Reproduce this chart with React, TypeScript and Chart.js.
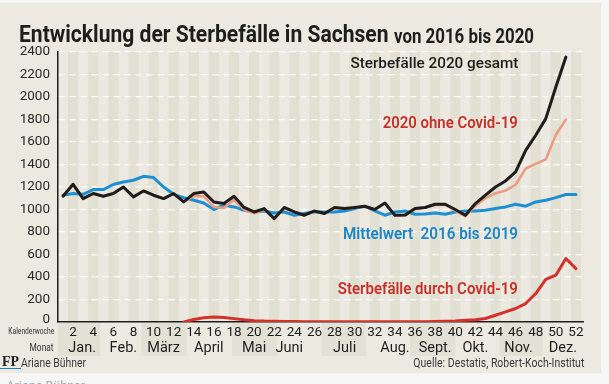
import React, { useEffect, useLayoutEffect, useRef } from "react";
import { Chart, registerables } from "chart.js";
Chart.register(...registerables);

// ---- data ----
const weeks = [1,2,3,4,5,6,7,8,9,10,11,12,13,14,15,16,17,18,19,20,21,22,23,24,25,26,27,28,29,30,31,32,33,34,35,36,37,38,39,40,41,42,43,44,45,46,47,48,49,50,51,52];
const total2020 = [1118,1224,1097,1142,1118,1142,1200,1112,1165,1127,1097,1142,1067,1142,1156,1067,1053,1118,1018,978,1008,920,1018,978,949,987,964,1018,1008,1018,1029,1000,1058,949,950,1008,1018,1047,1047,1000,949,1053,1127,1200,1254,1334,1526,1660,1808,2089,2355,null];
const without2020 = [1118,1224,1097,1142,1118,1142,1200,1112,1165,1127,1097,1142,1067,1120,1118,1022,1013,1088,998,966,1000,914,1013,974,946,984,962,1016,1006,1016,1027,998,1056,946,947,1005,1015,1042,1040,990,939,1035,1100,1145,1168,1220,1364,1405,1445,1665,1800,null];
const covid2020 = [null,null,null,null,null,null,null,null,null,null,null,null,0,22,38,45,40,30,20,12,8,6,5,4,3,3,2,2,2,2,2,2,2,3,3,3,3,5,7,10,15,20,31,60,90,120,164,253,378,416,564,475];
const mean2016to2019 = [1127,1142,1135,1177,1177,1222,1245,1260,1295,1284,1200,1135,1106,1082,1058,1000,1038,1023,993,978,987,969,978,949,964,978,978,978,987,1008,1029,987,949,978,987,958,960,969,958,978,987,987,993,1008,1023,1047,1029,1067,1082,1106,1133,1133];
const weekTicks = [2,4,6,8,10,12,14,16,18,20,22,24,26,28,30,32,34,36,38,40,42,44,46,48,50,52];
const yTicks = [0,200,400,600,800,1000,1200,1400,1600,1800,2000,2200,2400];
const monthLabels = ["Jan.","Feb.","März","April","Mai","Juni","Juli","Aug.","Sept.","Okt.","Nov.","Dez."];
const monthCenters = [2.9,7,11,15.5,20,23.5,29,34,38,42,46.3,50.7];
const monthBounds = [0.5,4.7,8.8,13.3,17.8,22.3,26.7,31.1,35.5,40,44.4,48.7,52.7];

const BEIGE = "#ebe9e0";
const STRIPE = "#e2dfd3";
const BAND = "#e3e1d6";
const FONT = "Roboto, 'Noto Sans', sans-serif";
const TICK_SIZE = 13.5;

const toPts = (arr: (number | null)[]) => arr.map((v, i) => ({ x: weeks[i], y: v }));

const bgPlugin = {
  id: "bgStripes",
  beforeDraw(chart: any) {
    const { ctx, chartArea } = chart;
    const xs = chart.scales.x;
    ctx.save();
    ctx.fillStyle = STRIPE;
    weekTicks.forEach((w) => {
      const a = xs.getPixelForValue(w - 0.5);
      const b = Math.min(xs.getPixelForValue(w + 0.5), chartArea.right);
      ctx.fillRect(a, chartArea.top, b - a, chartArea.bottom - chartArea.top);
    });
    ctx.fillStyle = BAND;
    for (let i = 0; i < monthBounds.length - 1; i += 2) {
      const a = xs.getPixelForValue(monthBounds[i]);
      const b = xs.getPixelForValue(monthBounds[i + 1]);
      ctx.fillRect(a, chartArea.bottom + 1, b - a, 356 - chartArea.bottom - 1);
    }
    ctx.restore();
  },
  afterDraw(chart: any) {
    // bottom y tick label ("0"), drawn at the y scale's own pixel for the first tick
    const { ctx, chartArea } = chart;
    const ys = chart.scales.y;
    ctx.save();
    ctx.fillStyle = "#2a2a2a";
    ctx.font = `${TICK_SIZE}px ${FONT}`;
    ctx.textAlign = "right";
    ctx.textBaseline = "middle";
    ctx.fillText(String(yTicks[0]), chartArea.left - 8, ys.getPixelForValue(yTicks[0]) - 2);
    ctx.restore();
  },
};

function FitText(props: {
  text: string; x: number; anchor: "left" | "right"; baseline: number; size: number;
  width: number; weight?: number | string; color?: string; family?: string;
}) {
  const ref = useRef<HTMLSpanElement>(null);
  useLayoutEffect(() => {
    const fit = () => {
      const el = ref.current;
      if (!el) return;
      el.style.transform = "none";
      const w = el.getBoundingClientRect().width;
      if (w > 0) el.style.transform = `scaleX(${props.width / w})`;
    };
    fit();
    if ((document as any).fonts) (document as any).fonts.ready.then(fit);
  }, []);
  const top = props.baseline - 0.8415 * props.size;
  const st: React.CSSProperties = {
    position: "absolute",
    top,
    fontSize: props.size,
    lineHeight: `${props.size}px`,
    whiteSpace: "pre",
    fontFamily: props.family || FONT,
    fontWeight: props.weight as any,
    color: props.color || "#1d1d1b",
    transformOrigin: props.anchor === "left" ? "left top" : "right top",
    zIndex: 2,
  };
  if (props.anchor === "left") st.left = props.x;
  else st.right = 609 - props.x;
  return <span ref={ref} style={st}>{props.text}</span>;
}

export default function App() {
  const canvasRef = useRef<HTMLCanvasElement>(null);
  useEffect(() => {
    const canvas = canvasRef.current!;
    const chart = new Chart(canvas, {
      type: "line",
      data: {
        datasets: [
          { data: toPts(total2020) as any, borderColor: "#1d1d1b", borderWidth: 3, order: 0 },
          { data: toPts(covid2020) as any, borderColor: "#d3312a", borderWidth: 3, order: 1 },
          { data: toPts(without2020) as any, borderColor: "#ec9a80", borderWidth: 2.5, order: 2 },
          { data: toPts(mean2016to2019) as any, borderColor: "#1d90d3", borderWidth: 3, order: 3 },
        ].map((d) => ({ ...d, pointRadius: 0, tension: 0, fill: false, spanGaps: false, borderJoinStyle: "round" as const, borderCapStyle: "round" as const })),
      },
      options: {
        animation: false,
        responsive: false,
        devicePixelRatio: 1,
        events: [],
        layout: { padding: { left: 0, right: 26, top: 52, bottom: 27 } },
        plugins: { legend: { display: false }, title: { display: false }, tooltip: { enabled: false } },
        scales: {
          y: {
            type: "linear",
            min: yTicks[0],
            max: yTicks[yTicks.length - 1],
            afterFit: (s: any) => { s.width = 58; },
            afterBuildTicks: (s: any) => { s.ticks = yTicks.map((v) => ({ value: v })); },
            ticks: {
              autoSkip: false,
              color: "#2a2a2a",
              font: { family: FONT, size: TICK_SIZE },
              padding: 8,
              callback: (v: any) => (v === yTicks[0] ? "" : String(v)),
            },
            grid: { color: "#ffffff", lineWidth: 1.3, drawTicks: false },
            border: { display: true, color: "#1d1d1b", width: 1.5, dash: [6, 5] },
          },
          x: {
            type: "linear",
            position: "bottom",
            weight: 0,
            min: 0.5,
            max: 52.7,
            afterFit: (s: any) => { s.height = 17; },
            afterBuildTicks: (s: any) => { s.ticks = weekTicks.map((v) => ({ value: v })); },
            ticks: {
              autoSkip: false, maxRotation: 0, color: "#1d1d1b", padding: 3,
              font: { family: FONT, size: TICK_SIZE },
              callback: (v: any) => String(v),
            },
            grid: { display: false, drawTicks: false },
            border: { display: true, color: "#1d1d1b", width: 1.5 },
          },
          m: {
            type: "linear",
            position: "bottom",
            weight: 1,
            min: 0.5,
            max: 52.7,
            afterFit: (s: any) => { s.height = 18; },
            afterBuildTicks: (s: any) => { s.ticks = monthCenters.map((v) => ({ value: v })); },
            ticks: {
              autoSkip: false, maxRotation: 0, color: "#1d1d1b", padding: 1,
              font: { family: FONT, size: 14.5 },
              callback: (v: any) => { const i = monthCenters.indexOf(v); return i >= 0 ? monthLabels[i] : ""; },
            },
            grid: { display: false, drawTicks: false },
            border: { display: false },
          },
        },
      },
      plugins: [bgPlugin],
    } as any);
    return () => chart.destroy();
  }, []);

  return (
    <div style={{ position: "absolute", left: 0, top: 0, width: 609, height: 384, overflow: "hidden", background: "#f6f6f4" }}>
      <div style={{ position: "absolute", left: 0, top: 3, width: 601, height: 370, background: BEIGE }} />
      <canvas ref={canvasRef} width={609} height={384} style={{ position: "absolute", left: 0, top: 0, zIndex: 1 }} />
      <FitText text="Entwicklung der Sterbefälle in Sachsen" x={18.6} anchor="left" baseline={42.7} size={23} width={369.5} weight={700} />
      <FitText text="von 2016 bis 2020" x={394} anchor="left" baseline={42.7} size={20} width={140} weight={700} />
      <FitText text="Sterbefälle 2020 gesamt" x={518} anchor="right" baseline={69} size={15.5} width={168} weight={500} />
      <FitText text="2020 ohne Covid-19" x={518} anchor="right" baseline={128.3} size={16} width={135} weight={600} color="#c8302a" />
      <FitText text="Mittelwert  2016 bis 2019" x={518} anchor="right" baseline={239.7} size={16} width={175} weight={600} color="#1b86c6" />
      <FitText text="Sterbefälle durch Covid-19" x={518} anchor="right" baseline={294.7} size={16} width={180} weight={600} color="#c8302a" />
      <FitText text="Kalenderwoche" x={54} anchor="right" baseline={334.5} size={8.5} width={46} color="#333" />
      <FitText text="Monat" x={54} anchor="right" baseline={351} size={11} width={24} color="#333" />
      <FitText text="FP" x={2} anchor="left" baseline={367} size={14} width={17} weight={700} family="'Liberation Serif', 'DejaVu Serif', serif" color="#222" />
      <div style={{ position: "absolute", left: 0, top: 367.5, width: 21, height: 1.6, background: "#1b7fc0", zIndex: 2 }} />
      <FitText text="Ariane Bühner" x={21} anchor="left" baseline={367.3} size={12} width={65} color="#3a3a3a" />
      <FitText text="Quelle: Destatis, Robert-Koch-Institut" x={584} anchor="right" baseline={367.3} size={12} width={171} color="#3a3a3a" />
      <FitText text="· Ariane Bühner" x={0} anchor="left" baseline={390} size={13} width={85} color="#a8a8a8" />
    </div>
  );
}
